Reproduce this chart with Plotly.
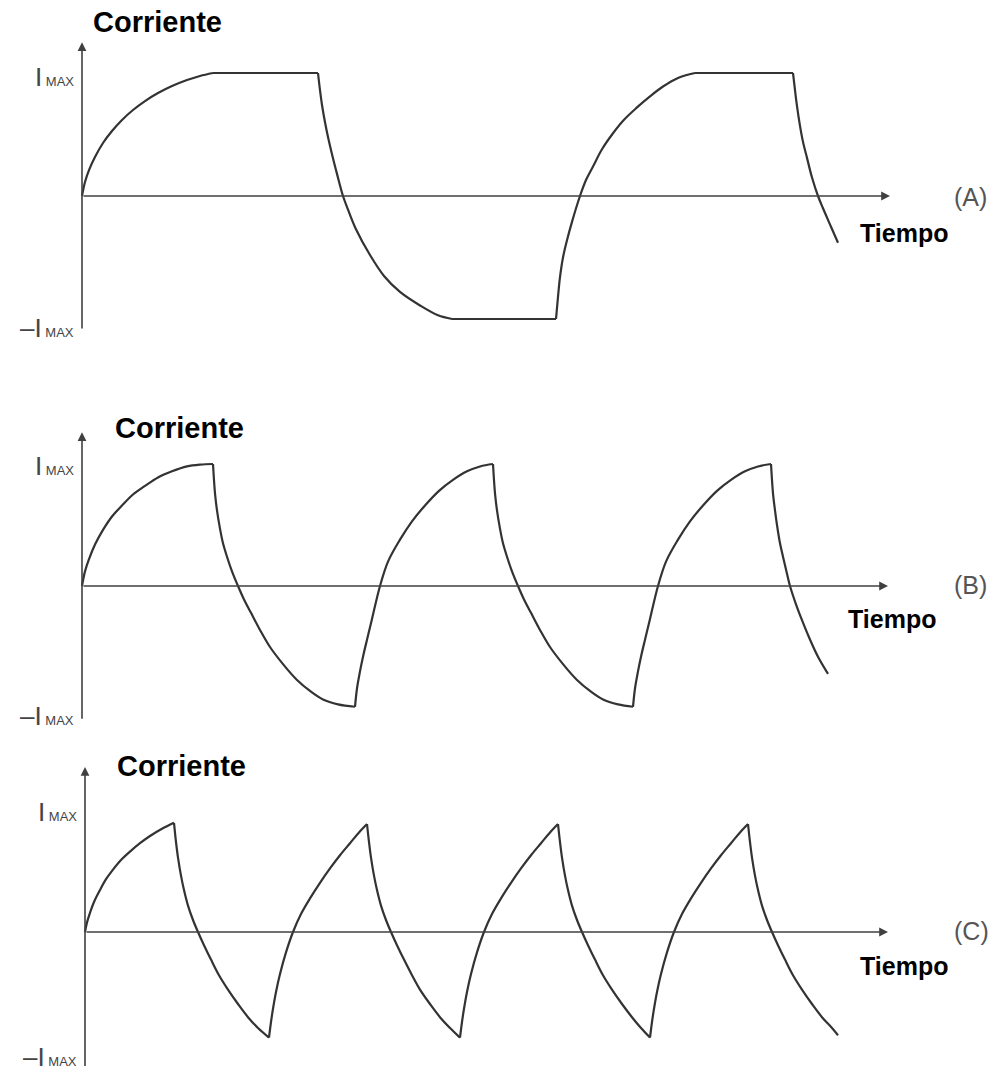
import plotly.graph_objects as go

W, H = 996, 1072

# ---------------- data (time from origin, current in units of I_MAX) ----------------
# Panel A: long period, current saturates at +/- I_MAX
A_t = [0, 3, 7, 13, 21, 30, 40, 51, 63, 76, 90, 105, 118, 131, None,
       131, 236, None,
       236, 238, 240, 243, 246, 250, 255, 261, 266, 274, 288, 302, 318, 338, 356, 370, None,
       370, 474, None,
       474, 476, 478, 481, 485, 490, 498, 504, 511, 520, 531, 542, 555, 568, 581, 596, 613, None,
       613, 711, None,
       711, 713, 715, 718, 721, 725, 730, 736, 741, 749, 756]
A_i = [0, 0.114, 0.211, 0.317, 0.431, 0.528, 0.618, 0.699, 0.772, 0.837, 0.894, 0.943, 0.976, 1.0, None,
       1.0, 1.0, None,
       1.0, 0.86, 0.74, 0.60, 0.48, 0.34, 0.18, 0.0, -0.11, -0.27, -0.48, -0.65, -0.78, -0.89, -0.97, -1.0, None,
       -1.0, -1.0, None,
       -1.0, -0.82, -0.66, -0.50, -0.36, -0.21, 0.0, 0.13, 0.24, 0.38, 0.51, 0.62, 0.72, 0.81, 0.89, 0.96, 1.0, None,
       1.0, 1.0, None,
       1.0, 0.86, 0.73, 0.57, 0.44, 0.31, 0.15, 0.0, -0.10, -0.25, -0.38]

# Panel B: medium period, current just reaches +/- I_MAX
B_t = [0, 3, 7, 13, 21, 30, 40, 51, 63, 76, 90, 105, 118, 131, None,
       131, 133, 135, 138, 141, 145, 150, 156, 162, 169, 178, 188, 201, 215, 228, 241, 256, 273, None,
       273, 275, 278, 281, 285, 290, 298, 306, 318, 330, 343, 357, 371, 385, 398, 411, None,
       411, 413, 415, 418, 421, 425, 430, 436, 442, 449, 458, 468, 481, 495, 508, 521, 536, 551, None,
       551, 553, 556, 559, 563, 568, 576, 584, 596, 608, 621, 635, 649, 663, 676, 689, None,
       689, 691, 693, 695, 698, 701, 705, 708, 714, 720, 727, 736, 746]
B_i = [0, 0.12, 0.22, 0.34, 0.46, 0.57, 0.66, 0.75, 0.82, 0.89, 0.94, 0.98, 0.995, 1.0, None,
       1.0, 0.76, 0.62, 0.47, 0.35, 0.24, 0.12, 0.0, -0.11, -0.22, -0.36, -0.50, -0.64, -0.77, -0.86, -0.93, -0.97, -0.99, None,
       -0.99, -0.84, -0.70, -0.58, -0.44, -0.27, 0.0, 0.20, 0.38, 0.53, 0.66, 0.78, 0.87, 0.94, 0.98, 1.0, None,
       1.0, 0.76, 0.62, 0.47, 0.35, 0.24, 0.12, 0.0, -0.11, -0.22, -0.36, -0.50, -0.64, -0.77, -0.86, -0.93, -0.97, -0.99, None,
       -0.99, -0.84, -0.70, -0.58, -0.44, -0.27, 0.0, 0.20, 0.38, 0.53, 0.66, 0.78, 0.87, 0.94, 0.98, 1.0, None,
       1.0, 0.76, 0.62, 0.50, 0.35, 0.24, 0.10, 0.0, -0.15, -0.28, -0.42, -0.58, -0.72]

# Panel C: short period, current never reaches I_MAX
C_t = [0, 2, 5, 9, 15, 21, 28, 36, 45, 55, 65, 77, 89, None,
       89, 91, 93, 96, 99, 103, 108, 113, 119, 126, 134, 143, 153, 163, 173, 184, None,
       184, 186, 188, 191, 195, 201, 208, 216, 225, 235, 245, 255, 265, 274, 282, None,
       282, 284, 286, 289, 292, 296, 301, 306, 312, 319, 327, 335, 345, 355, 365, 375, None,
       375, 377, 379, 382, 386, 392, 399, 407, 416, 426, 436, 446, 456, 465, 473, None,
       473, 475, 477, 480, 483, 487, 492, 497, 503, 510, 518, 527, 537, 547, 556, 565, None,
       565, 567, 569, 572, 576, 582, 589, 597, 606, 616, 626, 636, 646, 655, 663, None,
       663, 665, 667, 670, 673, 677, 682, 687, 693, 700, 708, 717, 727, 737, 747, 753]
C_i = [0, 0.08, 0.16, 0.25, 0.35, 0.44, 0.52, 0.60, 0.67, 0.74, 0.80, 0.86, 0.91, None,
       0.91, 0.75, 0.62, 0.47, 0.35, 0.22, 0.10, 0.0, -0.11, -0.23, -0.36, -0.48, -0.60, -0.71, -0.80, -0.88, None,
       -0.88, -0.75, -0.64, -0.50, -0.35, -0.17, 0.0, 0.15, 0.28, 0.41, 0.53, 0.64, 0.74, 0.83, 0.90, None,
       0.90, 0.75, 0.62, 0.47, 0.35, 0.22, 0.10, 0.0, -0.11, -0.23, -0.36, -0.48, -0.60, -0.71, -0.80, -0.88, None,
       -0.88, -0.75, -0.64, -0.50, -0.35, -0.17, 0.0, 0.15, 0.28, 0.41, 0.53, 0.64, 0.74, 0.83, 0.90, None,
       0.90, 0.75, 0.62, 0.47, 0.35, 0.22, 0.10, 0.0, -0.11, -0.23, -0.36, -0.48, -0.60, -0.71, -0.80, -0.88, None,
       -0.88, -0.75, -0.64, -0.50, -0.35, -0.17, 0.0, 0.15, 0.28, 0.41, 0.53, 0.64, 0.74, 0.83, 0.90, None,
       0.90, 0.75, 0.62, 0.47, 0.35, 0.22, 0.10, 0.0, -0.11, -0.23, -0.36, -0.48, -0.60, -0.71, -0.80, -0.86]

PANEL_TAGS = ["(A)", "(B)", "(C)"]
Y_TITLE = "Corriente"
X_TITLE = "Tiempo"
Y_TICKS = [1, -1]
Y_TICKTEXT = ["I<span style='font-size:13px'> MAX</span>",
              "\u2013I<span style='font-size:13px'> MAX</span>"]

# ---------------- layout geometry (pixels) ----------------
panels = [
    dict(t=A_t, i=A_i, x0=82, y0=196, s=123, top=0, bot=378,
         xend=808, ytop=1.25, ybot=-1.09,
         tick_shift=[-4, -9], title_xy=(91, 22), tiempo_xy=(858, 233), tag_xy=(952, 197)),
    dict(t=B_t, i=B_i, x0=82, y0=586, s=122, top=378, bot=738,
         xend=806, ytop=1.26, ybot=-1.10,
         tick_shift=[-2, -8], title_xy=(113, 428), tiempo_xy=(846, 619), tag_xy=(952, 585)),
    dict(t=C_t, i=C_i, x0=85, y0=932, s=120, top=738, bot=1072,
         xend=803, ytop=1.375, ybot=-1.13,
         tick_shift=[0, -5], title_xy=(115, 766), tiempo_xy=(858, 966), tag_xy=(952, 931)),
]

FONT = "Liberation Sans, Arial, sans-serif"
CURVE = "#333333"
AXIS = "#404040"

fig = go.Figure()
annotations = []
layout_axes = {}

for k, p in enumerate(panels):
    n = "" if k == 0 else str(k + 1)
    xa, ya = "x" + n, "y" + n
    fig.add_trace(go.Scatter(
        x=p["t"], y=p["i"], mode="lines", xaxis=xa, yaxis=ya,
        line=dict(color=CURVE, width=2.2, shape="spline", smoothing=1.0),
        connectgaps=False, hoverinfo="skip", showlegend=False))

    layout_axes["xaxis" + n] = dict(domain=[0, 1], range=[-p["x0"], W - p["x0"]],
                                     visible=False, fixedrange=True)
    layout_axes["yaxis" + n] = dict(
        domain=[1 - p["bot"] / H, 1 - p["top"] / H],
        range=[(p["y0"] - p["bot"]) / p["s"], (p["y0"] - p["top"]) / p["s"]],
        visible=False, fixedrange=True)

    # x axis with arrow
    annotations.append(dict(x=p["xend"], y=0, ax=0, ay=0, xref=xa, yref=ya,
                            axref=xa, ayref=ya, showarrow=True, text="",
                            arrowhead=2, arrowsize=1.1, arrowwidth=1.6, arrowcolor=AXIS))
    # y axis with arrow
    annotations.append(dict(x=0, y=p["ytop"], ax=0, ay=p["ybot"], xref=xa, yref=ya,
                            axref=xa, ayref=ya, showarrow=True, text="",
                            arrowhead=2, arrowsize=1.1, arrowwidth=1.6, arrowcolor=AXIS))
    # I_MAX labels
    for val, txt, sh in zip(Y_TICKS, Y_TICKTEXT, p["tick_shift"]):
        annotations.append(dict(x=-6, y=val, xref=xa, yref=ya, text=txt,
                                showarrow=False, xanchor="right", yanchor="middle",
                                yshift=sh, font=dict(family=FONT, size=26, color="#444444")))
    # titles
    tx, ty = p["title_xy"]
    annotations.append(dict(x=tx / W, y=1 - ty / H, xref="paper", yref="paper",
                            text="<b>%s</b>" % Y_TITLE, showarrow=False,
                            xanchor="left", yanchor="middle",
                            font=dict(family=FONT, size=29, color="#000000")))
    tx, ty = p["tiempo_xy"]
    annotations.append(dict(x=tx / W, y=1 - ty / H, xref="paper", yref="paper",
                            text="<b>%s</b>" % X_TITLE, showarrow=False,
                            xanchor="left", yanchor="middle",
                            font=dict(family=FONT, size=25, color="#000000")))
    tx, ty = p["tag_xy"]
    annotations.append(dict(x=tx / W, y=1 - ty / H, xref="paper", yref="paper",
                            text=PANEL_TAGS[k], showarrow=False,
                            xanchor="left", yanchor="middle",
                            font=dict(family=FONT, size=25, color="#555555")))

fig.update_layout(
    width=W, height=H, margin=dict(l=0, r=0, t=0, b=0),
    paper_bgcolor="white", plot_bgcolor="white",
    showlegend=False, annotations=annotations, **layout_axes)

fig.write_html("out.html", config={"displayModeBar": False, "staticPlot": True},
               post_script="document.body.style.margin='0';document.body.style.overflow='hidden';")
